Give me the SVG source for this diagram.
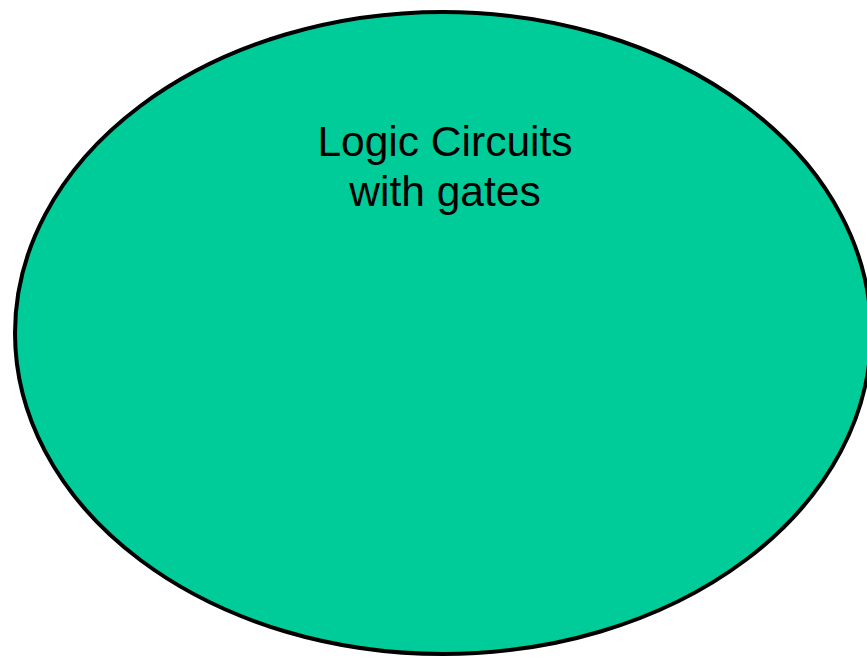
<svg xmlns="http://www.w3.org/2000/svg" width="867" height="657" viewBox="0 0 867 657">
<style>
.t{font-family:"Liberation Sans",Arial,sans-serif;font-size:42.5px;fill:#000;text-anchor:middle}
</style>
<rect width="867" height="657" fill="#fff"/>
<g id="node-logic-circuits">
<ellipse cx="443" cy="333" rx="428" ry="321" fill="#00CC99" stroke="#000" stroke-width="4"/>
<text class="t" x="445" y="156">Logic Circuits</text>
<text class="t" x="445" y="206">with gates</text>
</g>
<g id="connectors"></g>
</svg>
